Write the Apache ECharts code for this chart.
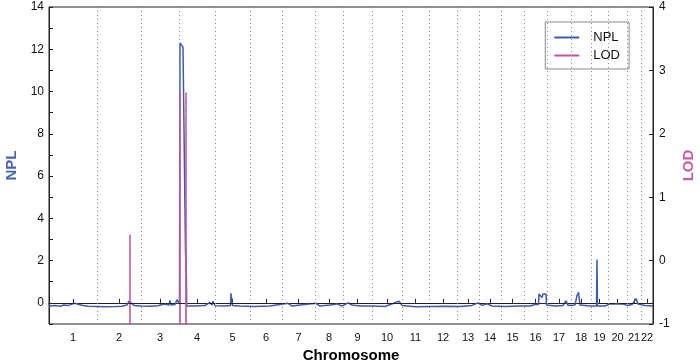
<!DOCTYPE html>
<html lang="en">
<head>
    <meta charset="utf-8">
    <title>NPL / LOD</title>
    <script src="https://cdn.jsdelivr.net/npm/echarts@6/dist/echarts.min.js"></script>
    <style>
        html, body { margin: 0; padding: 0; background: #fff; }
    </style>
</head>
<body>
<div id="main" style="width:700px;height:362px;"></div>
<script type="text/javascript">
    // chromosome names and boundaries (cumulative position, cM)
    var chromosomes = ['1','2','3','4','5','6','7','8','9','10','11','12','13','14','15','16','17','18','19','20','21','22'];
    var boundaries = [0, 288, 552, 780, 996, 1206, 1398, 1596, 1764, 1938, 2118, 2280, 2448, 2580, 2712, 2850, 2988, 3132, 3252, 3354, 3468, 3552, 3624];

    // NPL curve [position, value]
    var nplData = [
        [0,-0.15],[36,-0.12],[66,-0.16],[90,-0.1],[114,-0.13],[138,-0.06],[156,-0.02],[168,0.05],[180,-0.08],
        [204,-0.12],[234,-0.16],[288,-0.17],[336,-0.18],[396,-0.17],[438,-0.16],[468,-0.1],[480,0.08],[492,0.05],
        [510,-0.12],[552,-0.15],[606,-0.16],[654,-0.14],[690,-0.05],[702,-0.12],[720,-0.1],[726,0.12],[732,-0.1],
        [756,-0.08],[768,0.15],[777,0.2],[783,-0.05],[786,12.3],[798,12.25],[804,12.1],[814,12.1],[819,2.4],
        [823,2.4],[824,1.3],[826,-0.15],[876,-0.15],[936,-0.13],[966,0.02],[978,-0.1],[984,0.08],[996,-0.14],
        [1056,-0.15],[1089,-0.12],[1092,0.45],[1098,0.45],[1101,-0.12],[1146,-0.15],[1236,-0.17],[1326,-0.15],
        [1434,-0.02],[1458,-0.15],[1506,-0.1],[1602,-0.02],[1626,-0.15],[1686,-0.1],[1728,-0.05],[1758,-0.15],
        [1794,0.0],[1818,-0.1],[1866,-0.15],[1938,-0.15],[2016,-0.17],[2100,0.08],[2118,-0.12],[2196,-0.18],
        [2286,-0.17],[2376,-0.16],[2466,-0.17],[2538,-0.12],[2574,0.0],[2598,-0.12],[2628,-0.04],[2658,-0.15],
        [2736,-0.17],[2826,-0.15],[2886,-0.15],[2916,-0.08],[2937,-0.08],[2940,0.42],[2952,0.42],[2958,0.25],
        [2964,0.42],[2982,0.42],[2985,-0.1],[3036,-0.15],[3084,-0.12],[3102,0.1],[3114,-0.12],[3156,-0.1],
        [3168,0.35],[3177,0.5],[3180,0.55],[3186,-0.1],[3246,-0.15],[3285,-0.15],[3288,2.05],[3291,-0.15],
        [3336,-0.15],[3366,-0.05],[3444,-0.05],[3468,-0.12],[3498,-0.08],[3522,0.2],[3534,-0.05],[3576,-0.12],
        [3624,-0.15]
    ];

    // LOD curve [position, value] (far below the axis except at the peaks)
    var lodData = [
        [0,-5],[485,-5],[486,0.41],[487,-5],
        [785,-5],[786,2.65],[787,-5],
        [821,-5],[822,2.65],[823,-5],
        [3624,-5]
    ];

    var centers = [];
    for (var i = 0; i < chromosomes.length; i++) {
        centers.push((boundaries[i] + boundaries[i + 1]) / 2);
    }
    var gridLines = boundaries.slice(1, boundaries.length - 1).map(function (b) {
        return { xAxis: b };
    });

    function chromLabel(v) {
        var best = 0;
        for (var i = 0; i < centers.length; i++) {
            if (Math.abs(centers[i] - v) < Math.abs(centers[best] - v)) best = i;
        }
        return chromosomes[best];
    }

    var blue = '#3d5ba8';
    var pink = '#c452a0';
    var font = 'Liberation Sans, Arial, sans-serif';

    var myChart = echarts.init(document.getElementById('main'));
    myChart.setOption({
        backgroundColor: '#ffffff',
        animation: false,
        textStyle: { fontFamily: font },
        grid: {
            left: 49, right: 47, top: 7, bottom: 38,
            outerBoundsMode: 'none',
            show: true, borderColor: '#222', borderWidth: 1
        },
        legend: {
            right: 71, top: 22,
            orient: 'vertical',
            backgroundColor: '#fff',
            borderColor: '#888', borderWidth: 1,
            padding: [8, 9, 6, 9],
            itemWidth: 25, itemHeight: 2, itemGap: 3,
            icon: 'rect',
            textStyle: { fontSize: 13, color: '#111', lineHeight: 15, padding: [0, 0, 0, 9] },
            data: ['NPL', 'LOD']
        },
        xAxis: {
            type: 'value',
            min: 0, max: 3624,
            name: 'Chromosome',
            nameLocation: 'middle',
            nameGap: 23,
            nameTextStyle: { fontSize: 15, fontWeight: 'bold', color: '#000' },
            axisLine: { lineStyle: { color: '#222' } },
            axisTick: { inside: true, length: 4, customValues: centers, lineStyle: { color: '#222' } },
            axisLabel: { customValues: centers, formatter: chromLabel, fontSize: 11, color: '#111', margin: 8 },
            splitLine: { show: false }
        },
        yAxis: [{
            type: 'value',
            min: -1, max: 14, interval: 1,
            name: 'NPL',
            nameLocation: 'middle',
            nameRotate: 90,
            nameGap: 29,
            nameTextStyle: { fontSize: 15, fontWeight: 'bold', color: '#4a63ad' },
            axisLine: { show: true, lineStyle: { color: '#222' } },
            axisTick: { show: true, inside: true, length: 4, lineStyle: { color: '#222' } },
            axisLabel: {
                fontSize: 12, color: '#111', margin: 5,
                formatter: function (v) { return (v >= 0 && v % 2 === 0) ? String(v) : ''; }
            },
            splitLine: { show: false }
        }, {
            type: 'value',
            min: -1, max: 4, interval: 1,
            position: 'right',
            name: 'LOD',
            nameLocation: 'middle',
            nameRotate: 90,
            nameGap: 28,
            nameTextStyle: { fontSize: 15, fontWeight: 'bold', color: '#c860a6' },
            axisLine: { show: true, lineStyle: { color: '#222' } },
            axisTick: { show: true, inside: true, length: 4, lineStyle: { color: '#222' } },
            axisLabel: { fontSize: 12, color: '#111', margin: 6 },
            splitLine: { show: false }
        }],
        series: [{
            name: 'grid',
            type: 'line',
            data: [],
            z: 1,
            silent: true,
            markLine: {
                silent: true,
                symbol: 'none',
                animation: false,
                label: { show: false },
                lineStyle: { color: '#888', width: 1, type: [1, 3] },
                data: gridLines
            }
        }, {
            name: 'NPL',
            type: 'line',
            data: nplData,
            showSymbol: false,
            color: blue,
            lineStyle: { color: blue, width: 1.5 },
            z: 3,
            markLine: {
                silent: true,
                symbol: 'none',
                animation: false,
                label: { show: false },
                lineStyle: { color: '#222', width: 1, type: [6, 4] },
                data: [{ yAxis: 0 }]
            }
        }, {
            name: 'LOD',
            type: 'line',
            yAxisIndex: 1,
            data: lodData,
            showSymbol: false,
            color: pink,
            lineStyle: { color: pink, width: 1.5 },
            z: 4
        }]
    });
</script>
</body>
</html>
